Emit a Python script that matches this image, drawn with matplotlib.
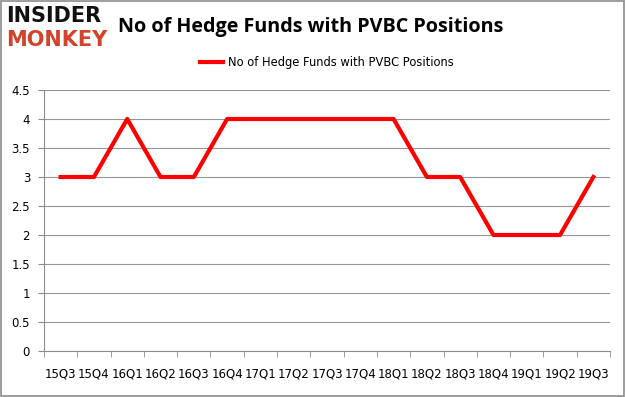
import matplotlib
matplotlib.use("Agg")
import matplotlib.pyplot as plt
from matplotlib.patches import Rectangle

quarters = ["15Q3", "15Q4", "16Q1", "16Q2", "16Q3", "16Q4", "17Q1", "17Q2", "17Q3",
            "17Q4", "18Q1", "18Q2", "18Q3", "18Q4", "19Q1", "19Q2", "19Q3"]
funds = [3, 3, 4, 3, 3, 4, 4, 4, 4, 4, 4, 3, 3, 2, 2, 2, 3]
yticks = [0, 0.5, 1, 1.5, 2, 2.5, 3, 3.5, 4, 4.5]
ylabels = ["0", "0.5", "1", "1.5", "2", "2.5", "3", "3.5", "4", "4.5"]

W, H = 626, 397
fig = plt.figure(figsize=(W / 100, H / 100), dpi=100)
fig.patch.set_facecolor("white")
fig.add_artist(Rectangle((0.0015, 0.002), 0.996, 0.995, transform=fig.transFigure,
                         fill=False, edgecolor="#8c8c8c", linewidth=1.2))

ax = fig.add_axes([44 / W, 1 - 351 / H, (610 - 44) / W, (351 - 90) / H])
x = list(range(len(quarters)))
ax.plot(x, funds, color="#ff0000", linewidth=3, label="No of Hedge Funds with PVBC Positions")
ax.set_xlim(-0.5, len(quarters) - 0.5)
ax.set_ylim(0, 4.5)
ax.set_yticks(yticks)
ax.set_yticklabels(ylabels)
ax.set_xticks(x)
ax.set_xticklabels(quarters)
ax.set_xticks([i - 0.5 for i in range(len(quarters) + 1)], minor=True)
ax.tick_params(axis="x", which="major", length=0, pad=12, labelsize=8.5)
ax.tick_params(axis="x", which="minor", length=4, color="#8c8c8c", direction="out")
ax.tick_params(axis="y", length=4, color="#8c8c8c", labelsize=8.5, pad=6)
ax.grid(axis="y", color="#969696", linewidth=0.8)
ax.set_axisbelow(True)
for s in ["top", "right"]:
    ax.spines[s].set_visible(False)
for s in ["left", "bottom"]:
    ax.spines[s].set_color("#8c8c8c")

ax.legend(loc="lower center", bbox_to_anchor=(0.5, 1.04), frameon=False, fontsize=8.3,
          handlelength=2.0, handletextpad=0.4)

fig.text(118 / W, 1 - 27 / H, "No of Hedge Funds with PVBC Positions", fontsize=14.2,
         fontweight="bold", va="center", ha="left", family="Open Sans")
fig.text(6 / W, 1 - 16 / H, "INSIDER", fontsize=15, fontweight="heavy", color="#111111",
         va="center", ha="left", family="DejaVu Sans")
fig.text(6 / W, 1 - 40 / H, "MONKEY", fontsize=15, fontweight="heavy", color="#d2432b",
         va="center", ha="left", family="DejaVu Sans")

fig.savefig("out.png", dpi=100)
